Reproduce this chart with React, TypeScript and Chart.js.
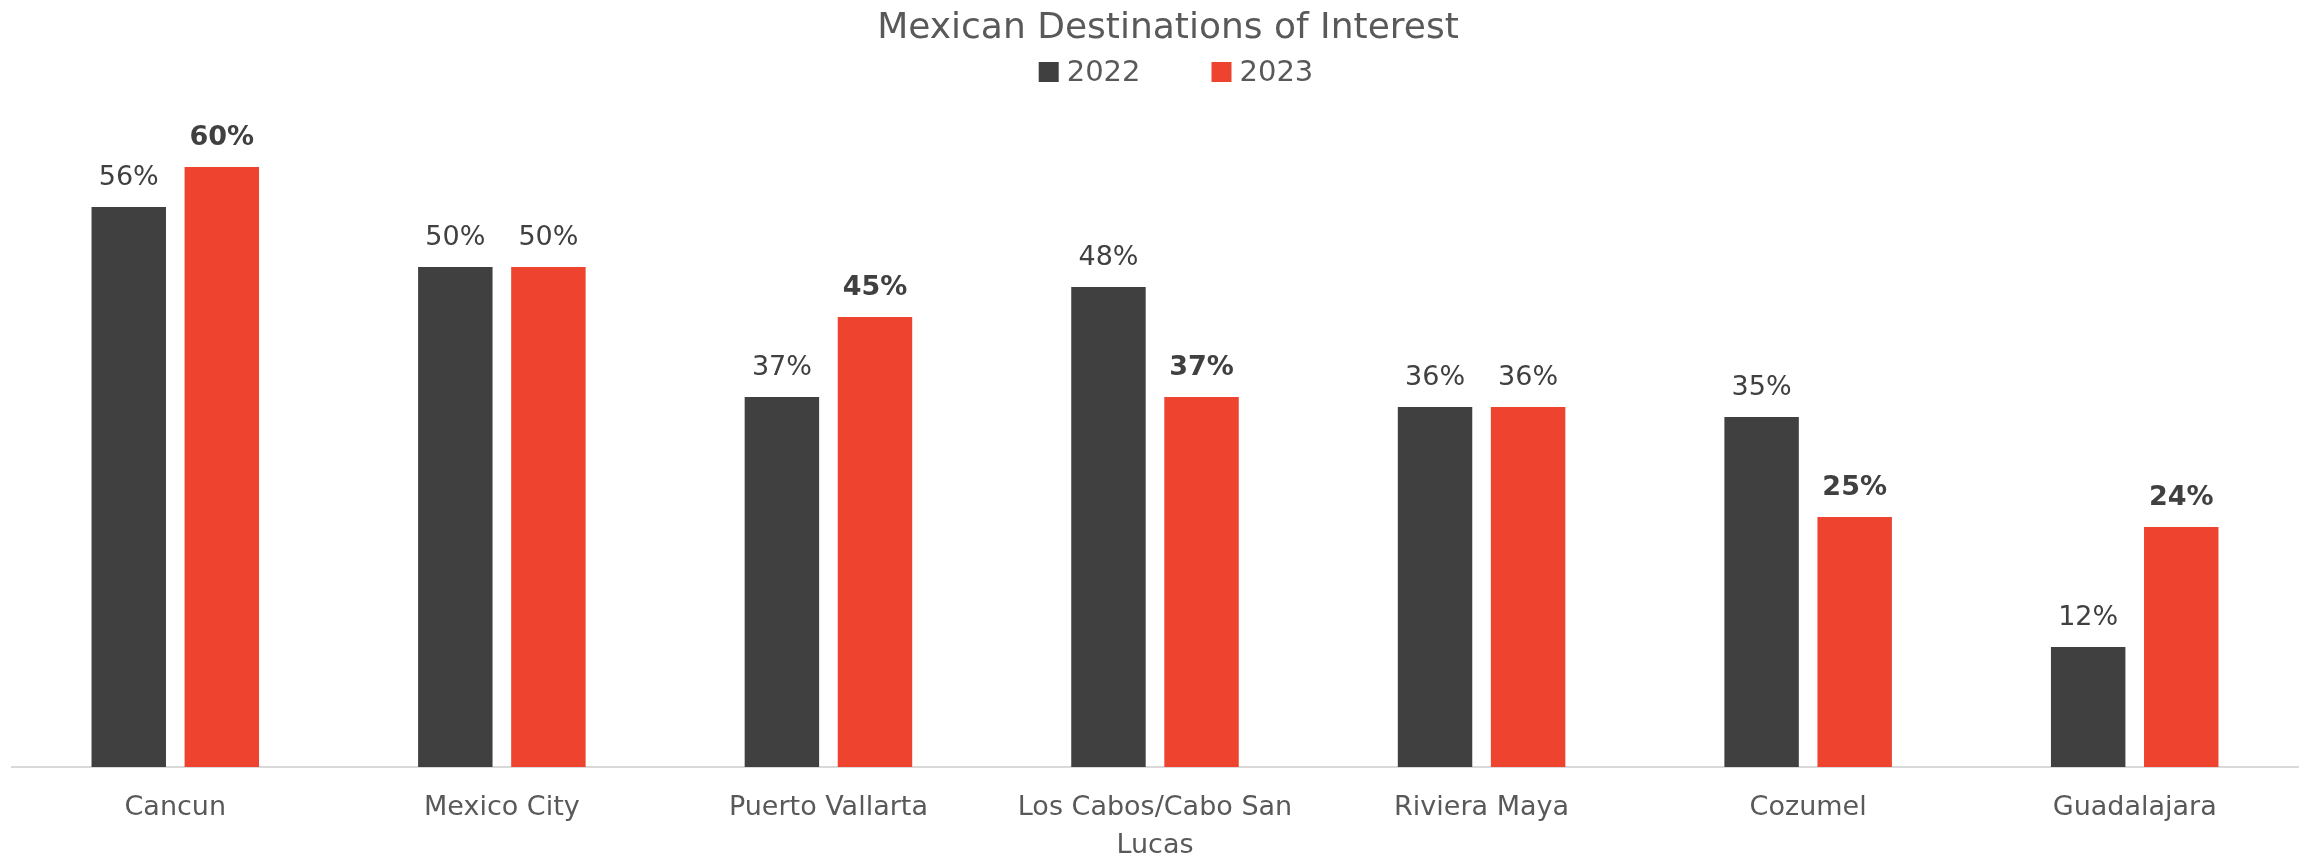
import React, { useEffect, useRef } from 'react';
import { Chart, registerables } from 'chart.js';

Chart.register(...registerables);

const chartTitle = 'Mexican Destinations of Interest';
const categories: (string | string[])[] = [
  'Cancun',
  'Mexico City',
  'Puerto Vallarta',
  ['Los Cabos/Cabo San', 'Lucas'],
  'Riviera Maya',
  'Cozumel',
  'Guadalajara',
];
const seriesNames = ['2022', '2023'];
const values2022 = [56, 50, 37, 48, 36, 35, 12];
const values2023 = [60, 50, 45, 37, 36, 25, 24];
const seriesColors = ['#404040', '#EE432F'];

const FONT = '"DejaVu Sans", sans-serif';
const TEXT_COLOR = '#595959';
const LABEL_COLOR = '#404040';

const W = 2310;
const H = 858;

const overlayPlugin = {
  id: 'overlay',
  afterDraw(chart: any) {
    const ctx = chart.ctx as CanvasRenderingContext2D;
    ctx.save();
    // Title
    ctx.font = `36px ${FONT}`;
    ctx.fillStyle = TEXT_COLOR;
    ctx.textAlign = 'center';
    ctx.textBaseline = 'alphabetic';
    ctx.fillText(chartTitle, 1168, 38);

    // Legend
    ctx.font = `29px ${FONT}`;
    const box = 20;
    const boxGap = 8;
    const itemGap = 71;
    const widths = seriesNames.map((n) => box + boxGap + ctx.measureText(n).width);
    const total = widths.reduce((a, b) => a + b, 0) + itemGap * (seriesNames.length - 1);
    let x = 1176 - total / 2;
    ctx.textAlign = 'left';
    seriesNames.forEach((n, i) => {
      ctx.fillStyle = seriesColors[i];
      ctx.fillRect(x, 62, box, box);
      ctx.fillStyle = TEXT_COLOR;
      ctx.fillText(n, x + box + boxGap, 81);
      x += widths[i] + itemGap;
    });
    ctx.restore();
  },
  afterDatasetsDraw(chart: any) {
    const ctx = chart.ctx as CanvasRenderingContext2D;
    ctx.save();
    ctx.textAlign = 'center';
    ctx.textBaseline = 'alphabetic';
    ctx.fillStyle = LABEL_COLOR;
    chart.data.datasets.forEach((ds: any, di: number) => {
      const meta = chart.getDatasetMeta(di);
      meta.data.forEach((el: any, i: number) => {
        const v = ds.data[i];
        const bold = di === 1 && values2023[i] !== values2022[i];
        ctx.font = `${bold ? 'bold ' : ''}27px ${FONT}`;
        ctx.fillText(`${v}%`, el.x, el.y - 22);
      });
    });
    ctx.restore();
  },
};

export default function App() {
  const ref = useRef<HTMLCanvasElement | null>(null);
  useEffect(() => {
    if (!ref.current) return;
    const chart = new Chart(ref.current, {
      type: 'bar',
      data: {
        labels: categories as any,
        datasets: [
          { label: seriesNames[0], data: values2022, backgroundColor: seriesColors[0] },
          { label: seriesNames[1], data: values2023, backgroundColor: seriesColors[1] },
        ],
      },
      options: {
        responsive: false,
        animation: false,
        layout: { padding: { top: 107, left: 12, right: 12, bottom: 0 } },
        datasets: { bar: { categoryPercentage: 0.57, barPercentage: 0.8 } } as any,
        plugins: {
          legend: { display: false },
          title: { display: false },
          tooltip: { enabled: false },
        },
        scales: {
          x: {
            grid: { display: false, drawTicks: false },
            border: { display: true, color: '#D9D9D9', width: 2 },
            ticks: {
              color: TEXT_COLOR,
              font: { family: FONT, size: 27, lineHeight: 1.4 },
              padding: 22,
              maxRotation: 0,
              autoSkip: false,
            },
            afterFit: (scale: any) => {
              scale.height = 91;
            },
          },
          y: {
            display: false,
            min: 0,
            max: 66,
          },
        },
      },
      plugins: [overlayPlugin],
    });
    return () => chart.destroy();
  }, []);
  return (
    <div style={{ position: 'absolute', left: 0, top: 0, width: W, height: H, background: '#fff' }}>
      <canvas ref={ref} width={W} height={H} style={{ display: 'block', width: W, height: H }} />
    </div>
  );
}
